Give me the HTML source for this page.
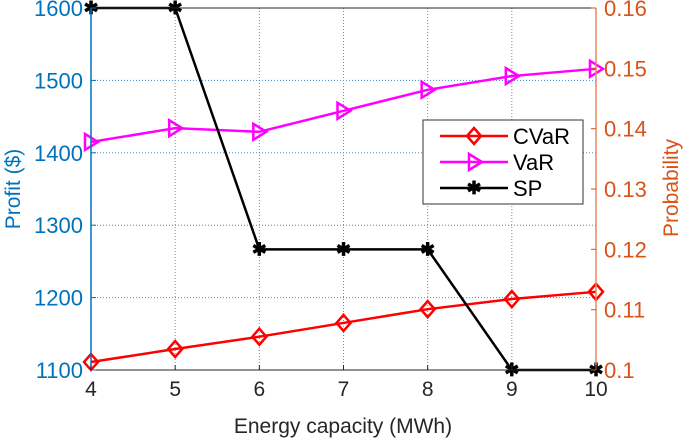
<!DOCTYPE html>
<html><head><meta charset="utf-8"><style>
body{margin:0;background:#fff;}
svg{display:block;font-family:"Liberation Sans",Arial,sans-serif;}
</style></head><body>
<svg width="685" height="441" viewBox="0 0 685 441">
<g id="grid"></g>
<g id="series"></g>
<g id="axes"></g>
<g>
<rect x="423" y="120" width="160" height="84" fill="#fff" stroke="#333" stroke-width="1"/>
<g>
<line x1="440" y1="136" x2="508" y2="136" stroke="#f00" stroke-width="2.5"/>
<path d="M474 128 L481 136 L474 144 L467 136 Z" fill="none" stroke="#f00" stroke-width="2.5"/>
<text x="513" y="144" font-size="22" fill="#000">CVaR</text></g>
<g>
<line x1="440" y1="162" x2="508" y2="162" stroke="#f0f" stroke-width="2.5"/>
<path d="M469 154 L482 162 L469 170 Z" fill="none" stroke="#f0f" stroke-width="2.5"/>
<text x="513" y="170" font-size="22" fill="#000">VaR</text></g>
<g>
<line x1="440" y1="188" x2="508" y2="188" stroke="#000" stroke-width="2.5"/>
<text x="474" y="194" font-size="18" font-weight="bold" text-anchor="middle" fill="#000">✱</text>
<text x="513" y="196" font-size="22" fill="#000">SP</text></g>
</g>
<text x="0" y="0" transform="translate(20,189) rotate(-90)" text-anchor="middle" font-size="21" fill="#0072bd">Profit ($)</text>
<text x="0" y="0" transform="translate(678,188) rotate(-90)" text-anchor="middle" font-size="21" fill="#d95319">Probability</text>
<text x="343" y="433" text-anchor="middle" font-size="21" fill="#262626">Energy capacity (MWh)</text>
</svg>
<script>
const xCats=[4,5,6,7,8,9,10];
const cvar=[1111,1129,1146,1165,1184,1198,1208];
const varS=[1415,1434,1429,1458,1487,1506,1516];
const sp=[0.16,0.16,0.12,0.12,0.12,0.1,0.1];
const leftTicks=[1100,1200,1300,1400,1500,1600];
const rightTicks=[0.1,0.11,0.12,0.13,0.14,0.15,0.16];
const L=91,R=596,T=8,B=370;
const xs=v=>L+(v-4)/6*(R-L);
const yl=v=>B-(v-1100)/500*(B-T);
const yr=v=>B-(v-0.1)/0.06*(B-T);
const NS="http://www.w3.org/2000/svg";
function mk(tag,attrs,parent){const e=document.createElementNS(NS,tag);for(const k in attrs)e.setAttribute(k,attrs[k]);document.getElementById(parent).appendChild(e);return e;}
xCats.forEach(v=>{if(v>4&&v<10){const e=mk('line',{x1:xs(v),x2:xs(v),y1:T,y2:B,stroke:'#888','stroke-width':1,'stroke-dasharray':'1,2'},'grid');

}});
leftTicks.forEach(v=>{if(v>1100&&v<1600){const e=mk('line',{x1:L,x2:R,y1:yl(v),y2:yl(v),stroke:'#3b8fd6','stroke-width':1,'stroke-dasharray':'1,2'},'grid');

}});
let a=mk('line',{x1:L,x2:L,y1:T,y2:B,stroke:'#0072bd','stroke-width':1.5},'axes');


a=mk('line',{x1:R,x2:R,y1:T,y2:B,stroke:'#e8875a','stroke-width':1.5},'axes');


a=mk('line',{x1:L,x2:R,y1:B,y2:B,stroke:'#262626','stroke-width':1},'axes');


a=mk('line',{x1:L,x2:R,y1:T,y2:T,stroke:'#262626','stroke-width':1},'axes');


xCats.forEach(v=>{mk('line',{x1:xs(v),x2:xs(v),y1:B,y2:B-5,stroke:'#262626'},'axes');
const t=mk('text',{x:xs(v),y:B+26,'text-anchor':'middle','font-size':21,fill:'#262626'},'axes');t.textContent=v;

});
leftTicks.forEach(v=>{mk('line',{x1:L,x2:L+5,y1:yl(v),y2:yl(v),stroke:'#0072bd'},'axes');
const t=mk('text',{x:L-8,y:yl(v)+8,'text-anchor':'end','font-size':22,fill:'#0072bd'},'axes');t.textContent=v;

});
rightTicks.forEach(v=>{mk('line',{x1:R-5,x2:R,y1:yr(v),y2:yr(v),stroke:'#d95319'},'axes');
const t=mk('text',{x:R+8,y:yr(v)+8,'font-size':22,fill:'#d95319'},'axes');t.textContent=(v===0.1?'0.1':v.toFixed(2));

});
function line(vals,yf,color,name){const p=mk('polyline',{points:vals.map((v,i)=>xs(xCats[i])+','+yf(v)).join(' '),fill:'none',stroke:color,'stroke-width':2.5},'series');

}
line(cvar,yl,'#f00','cvar-line');
line(varS,yl,'#f0f','var-line');
line(sp,yr,'#000','sp-line');
cvar.forEach((v,i)=>{const x=xs(xCats[i]),y=yl(v);const m=mk('path',{d:`M${x} ${y-8} L${x+7} ${y} L${x} ${y+8} L${x-7} ${y} Z`,fill:'none',stroke:'#f00','stroke-width':2.5},'series');

});
varS.forEach((v,i)=>{const x=xs(xCats[i]),y=yl(v);const m=mk('path',{d:`M${x-6} ${y-8} L${x+7} ${y} L${x-6} ${y+8} Z`,fill:'none',stroke:'#f0f','stroke-width':2.5},'series');

});
sp.forEach((v,i)=>{const x=xs(xCats[i]),y=yr(v);const m=mk('text',{x:x,y:y+6,'text-anchor':'middle','font-size':18,'font-weight':'bold',fill:'#000'},'series');m.textContent='✱';

});
</script>
</body></html>
